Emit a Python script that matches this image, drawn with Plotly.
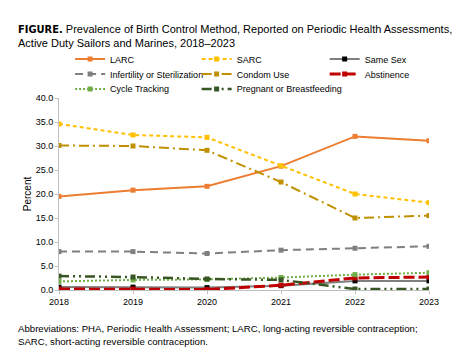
import plotly.graph_objects as go

years = [2018, 2019, 2020, 2021, 2022, 2023]
larc = [19.5, 20.8, 21.6, 25.8, 32.0, 31.1]
sarc = [34.6, 32.3, 31.8, 25.9, 20.0, 18.2]
same_sex = [0.6, 0.6, 0.5, 0.9, 1.9, 1.9]
infertility = [8.0, 8.0, 7.6, 8.3, 8.7, 9.1]
condom = [30.1, 30.0, 29.1, 22.5, 15.0, 15.5]
abstinence = [0.2, 0.2, 0.1, 1.0, 2.5, 2.7]
cycle = [1.8, 2.1, 2.2, 2.6, 3.2, 3.6]
pregnant = [2.9, 2.7, 2.3, 2.1, 0.2, 0.2]
ytick_vals = [0, 5, 10, 15, 20, 25, 30, 35, 40]
ytick_text = ["0.0", "5.0", "10.0", "15.0", "20.0", "25.0", "30.0", "35.0", "40.0"]

series = [
    ("LARC", larc, "#ED7D31", "#ED7D31", "solid", 2),
    ("SARC", sarc, "#FFC000", "#FFC000", "4px,3px", 2),
    ("Same Sex", same_sex, "#7F7F7F", "#000000", "solid", 2),
    ("Infertility or Sterilization", infertility, "#7F7F7F", "#7F7F7F", "8px,5px", 2),
    ("Condom Use", condom, "#BF9000", "#BF9000", "10px,4px,2px,4px", 2),
    ("Abstinence", abstinence, "#C00000", "#C00000", "11px,4px", 3),
    ("Cycle Tracking", cycle, "#70AD47", "#70AD47", "2px,2px", 2),
    ("Pregnant or Breastfeeding", pregnant, "#375623", "#375623", "10px,4px,2px,4px,2px,4px", 2.5),
]

# legend grid: 3 columns x 3 rows
col_x = [0.03, 0.372, 0.718]
row_y = [1.203, 1.125, 1.047]

font = "Liberation Sans, Arial, sans-serif"
fig = go.Figure()
legend_layout = {}
for i, (name, vals, lc, mc, dash, w) in enumerate(series):
    key = "legend" if i == 0 else f"legend{i + 1}"
    fig.add_trace(go.Scatter(
        x=years, y=vals, name=name, mode="lines+markers",
        line=dict(color=lc, dash=dash, width=w),
        marker=dict(symbol="square", size=5, color=mc),
        legend=key,
    ))
    legend_layout[key] = dict(
        x=col_x[i % 3], y=row_y[i // 3], xanchor="left", yanchor="middle",
        font=dict(size=9, family=font), itemwidth=30,
        bgcolor="rgba(0,0,0,0)", borderwidth=0,
    )

fig.update_layout(
    width=474, height=357,
    margin=dict(l=59, r=45, t=98, b=67),
    paper_bgcolor="white", plot_bgcolor="white",
    font=dict(family=font, size=9, color="#000000"),
    showlegend=True,
    xaxis=dict(
        range=[2018, 2023], tickvals=years, ticktext=[str(y) for y in years],
        showgrid=False, showline=True, linecolor="#BFBFBF", linewidth=1,
        ticks="outside", ticklen=3, tickcolor="#BFBFBF", zeroline=False,
        tickfont=dict(size=9),
    ),
    yaxis=dict(
        range=[0, 40], tickvals=ytick_vals, ticktext=ytick_text,
        showgrid=False, showline=True, linecolor="#BFBFBF", linewidth=1,
        ticks="outside", ticklen=3, tickcolor="#BFBFBF", zeroline=False,
        title=dict(text="Percent", font=dict(size=10), standoff=2),
        tickfont=dict(size=9),
    ),
    annotations=[
        dict(
            text="<span style=\"font-family:'Liberation Sans Narrow','DejaVu Sans Condensed',sans-serif\"><b>FIGURE.</b></span> Prevalence of Birth Control Method, Reported on Periodic Health Assessments,<br>Active Duty Sailors and Marines, 2018–2023",
            xref="paper", yref="paper", x=-0.117, y=1.399, xanchor="left", yanchor="top",
            align="left", showarrow=False, font=dict(size=11, family=font),
        ),
        dict(
            text="Abbreviations: PHA, Periodic Health Assessment; LARC, long-acting reversible contraception;<br>SARC, short-acting reversible contraception.",
            xref="paper", yref="paper", x=-0.117, y=-0.16, xanchor="left", yanchor="top",
            align="left", showarrow=False, font=dict(size=9.65, family=font),
        ),
    ],
    **legend_layout,
)
fig.write_html("out.html", config={"displayModeBar": False},
               post_script="document.body.style.margin='0';")
